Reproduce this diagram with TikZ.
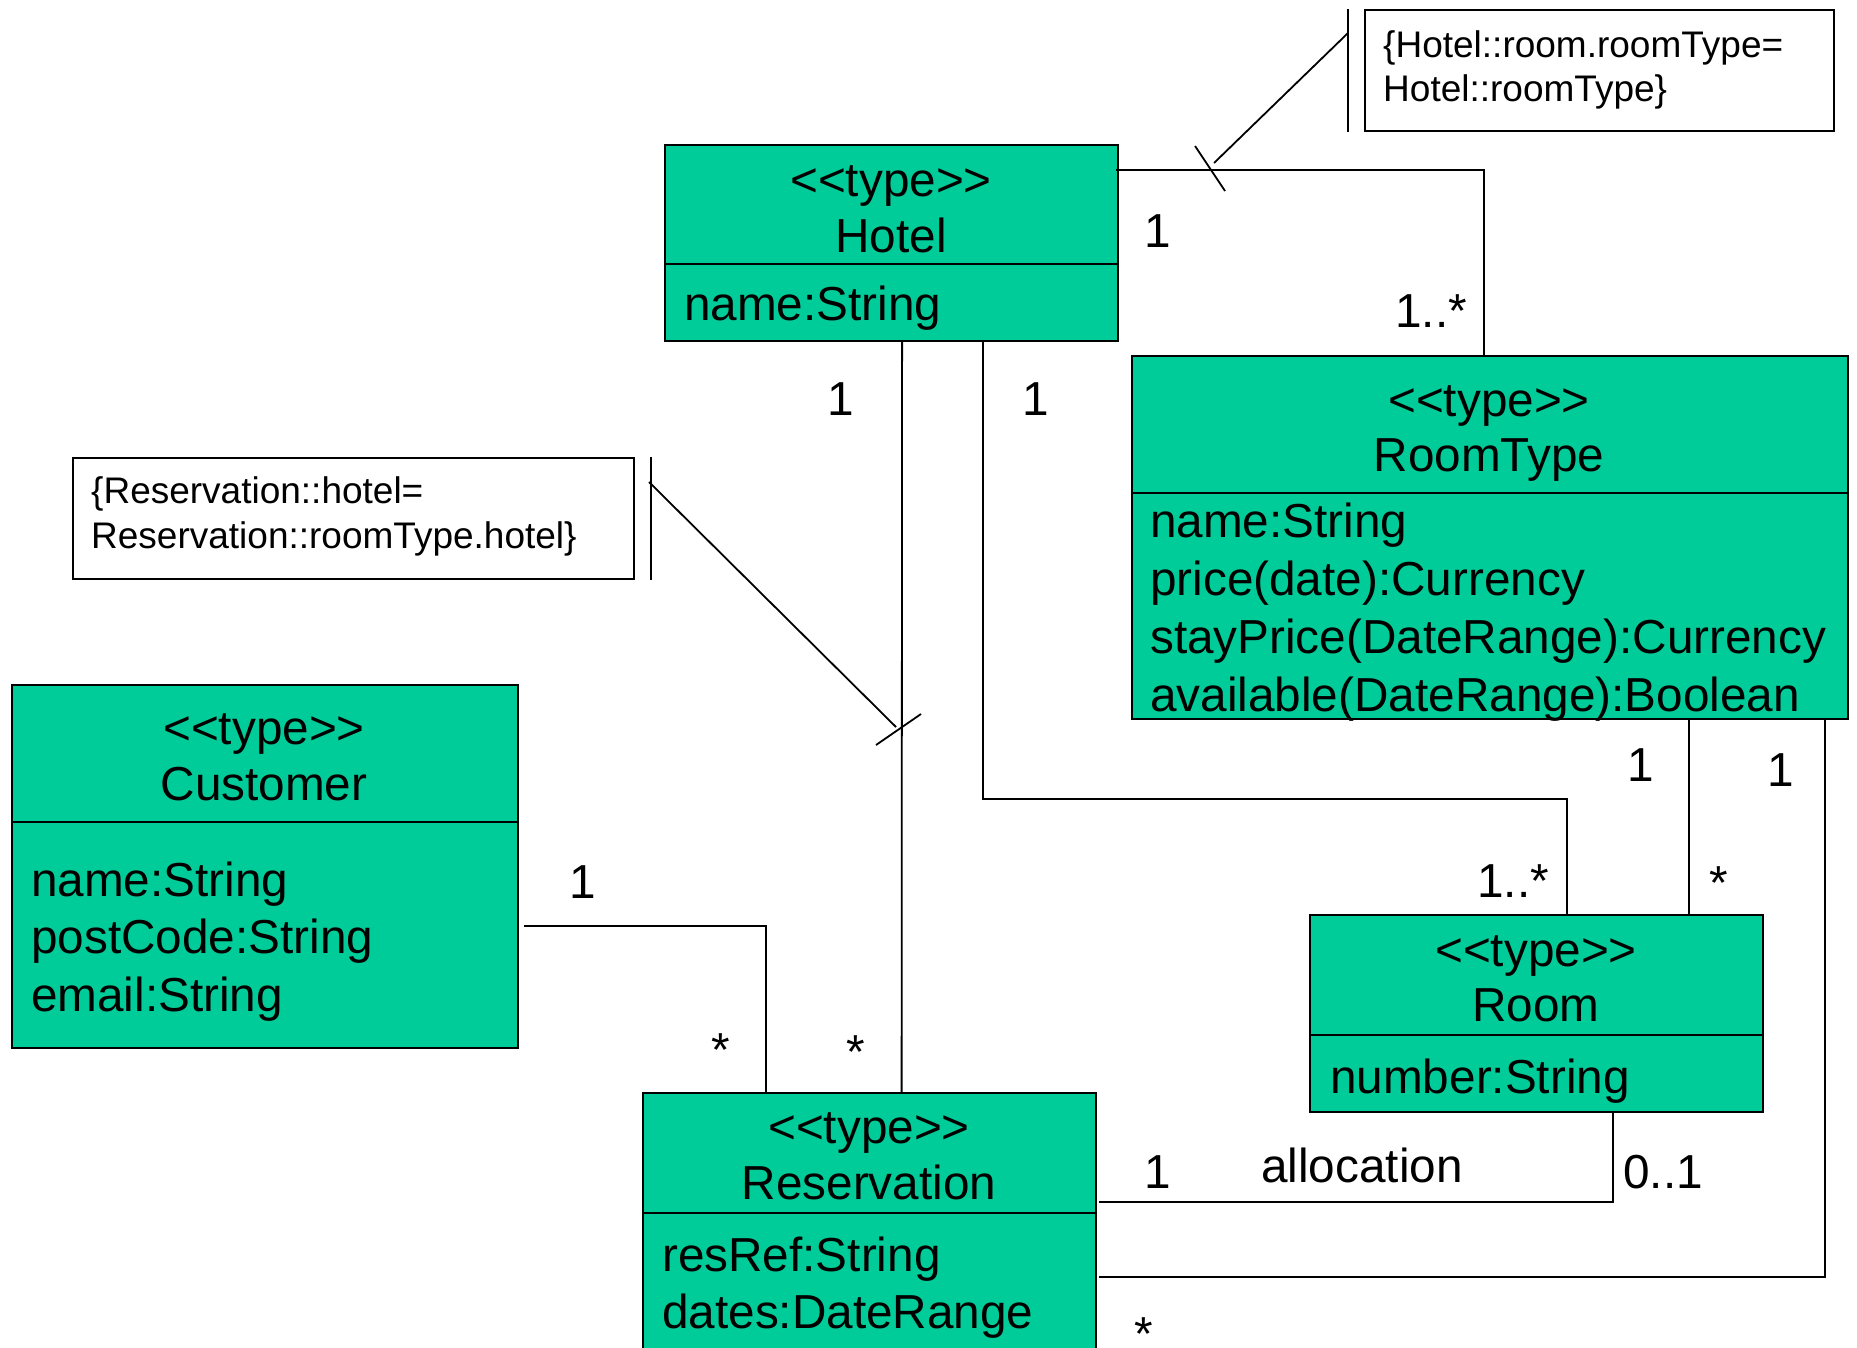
\documentclass[tikz,border=0pt]{standalone}
\usepackage{fontspec}
\setmainfont{Liberation Sans}
\definecolor{typegreen}{RGB}{0,204,153}
\newcommand{\stereo}[1]{<{}<#1>{}>}

\begin{document}
\begin{tikzpicture}[x=1pt,y=-1pt,
  classbox/.style={draw=black, fill=typegreen, line width=2.2pt, inner sep=0pt, anchor=north west},
  big/.style={font=\fontsize{47.7pt}{56pt}\selectfont, inner sep=0pt, text height=0.75em, text depth=0.21em, yshift=-14pt},
  title/.style={big, anchor=center},
  attr/.style={big, anchor=west},
  mult/.style={big, anchor=center},
  notebox/.style={draw=black, line width=1.8pt, fill=white, anchor=north west, inner sep=0pt},
  notetext/.style={font=\fontsize{37pt}{44pt}\selectfont, inner sep=0pt, anchor=west, text height=0.75em, text depth=0.21em, yshift=-11pt},
  link/.style={line width=1.8pt},
  divider/.style={line width=2.2pt},
]
\clip (0,0) rectangle (1857,1347);

% ---- class boxes ----
\node[classbox, minimum width=453pt, minimum height=196pt] (hotel) at (664,144) {};
\node[classbox, minimum width=716pt, minimum height=363pt] (roomtype) at (1131,355) {};
\node[classbox, minimum width=506pt, minimum height=363pt] (customer) at (11,684) {};
\node[classbox, minimum width=453pt, minimum height=197pt] (room) at (1309,914) {};
\node[classbox, minimum width=453pt, minimum height=280pt] (reservation) at (642,1092) {};

% compartment dividers
\draw[divider] ([yshift=-120pt]hotel.north west) -- ([yshift=-120pt]hotel.north east);
\draw[divider] ([yshift=-138pt]roomtype.north west) -- ([yshift=-138pt]roomtype.north east);
\draw[divider] ([yshift=-138pt]customer.north west) -- ([yshift=-138pt]customer.north east);
\draw[divider] ([yshift=-121pt]room.north west) -- ([yshift=-121pt]room.north east);
\draw[divider] ([yshift=-121pt]reservation.north west) -- ([yshift=-121pt]reservation.north east);

% ---- class texts ----
\node[title] (hotelst) at (891,180) {\stereo{type}};
\node[title] (hotelnm) at (891,236) {Hotel};
\node[attr] (hotela1) at (684,304) {name:String};

\node[title] (rtst) at (1489,400) {\stereo{type}};
\node[title] (rtnm) at (1489,455) {RoomType};
\node[attr] (rta1) at (1150,521) {name:String};
\node[attr] (rta2) at (1150,579) {price(date):Currency};
\node[attr] (rta3) at (1150,637) {stayPrice(DateRange):Currency};
\node[attr] (rta4) at (1150,695) {available(DateRange):Boolean};

\node[title] (custst) at (264,728) {\stereo{type}};
\node[title] (custnm) at (264,784) {Customer};
\node[attr] (custa1) at (31,880) {name:String};
\node[attr] (custa2) at (31,937) {postCode:String};
\node[attr] (custa3) at (31,995) {email:String};

\node[title] (roomst) at (1536,950) {\stereo{type}};
\node[title] (roomnm) at (1536,1005) {Room};
\node[attr] (rooma1) at (1330,1077) {number:String};

\node[title] (resst) at (869,1127) {\stereo{type}};
\node[title] (resnm) at (869,1183) {Reservation};
\node[attr] (resa1) at (662,1255) {resRef:String};
\node[attr] (resa2) at (662,1312) {dates:DateRange};

% ---- constraint notes ----
\node[notebox, minimum width=469pt, minimum height=121pt] (note1) at (1364,9) {};
\node[notetext] (note1a) at (1383,44) {\{Hotel::room.roomType=};
\node[notetext] (note1b) at (1383,88) {Hotel::roomType\}};
\draw[link] ([xshift=-16pt]note1.north west) -- ([xshift=-16pt]note1.south west);

\node[notebox, minimum width=561pt, minimum height=121pt] (note2) at (72,457) {};
\node[notetext] (note2a) at (91,490) {\{Reservation::hotel=};
\node[notetext] (note2b) at (91,535) {Reservation::roomType.hotel\}};
\draw[link] ([xshift=16pt]note2.north east) -- ([xshift=16pt]note2.south east);

% ---- associations ----
\draw[link] ([xshift=-3pt,yshift=-26pt]hotel.north east) -| ([xshift=-6.5pt]roomtype.north);
\draw[link] ([xshift=10.5pt]hotel.south) -- ([xshift=32pt]reservation.north);
\draw[link] ([xshift=91.5pt]hotel.south) |- ([xshift=30pt,yshift=115pt]room.north) -- ([xshift=30pt]room.north);
\draw[link] ([xshift=198.5pt]roomtype.south) -- ([xshift=152pt]room.north);
\draw[link] ([xshift=334.5pt]roomtype.south) |- ([xshift=2pt,yshift=-185pt]reservation.north east);
\draw[link] ([xshift=76pt]room.south) |- ([xshift=2pt,yshift=-110pt]reservation.north east);
\draw[link] ([xshift=5pt,yshift=-242pt]customer.north east) -| ([xshift=-104pt]reservation.north);

% constraint anchors: ticks on the constrained associations
\coordinate (n1from) at (1348,33);
\coordinate (n1to) at (1214,163);
\coordinate (t1a) at (1195,146);
\coordinate (t1b) at (1225,191);
\draw[link] (n1from) -- (n1to);
\draw[link] (t1a) -- (t1b);

\coordinate (n2from) at (649,482);
\coordinate (n2to) at (896,727);
\coordinate (t2a) at (876,745);
\coordinate (t2b) at (921,714);
\draw[link] (n2from) -- (n2to);
\draw[link] (t2a) -- (t2b);

% ---- multiplicities and role names ----
\node[mult] (m1) at (1158,231) {1};
\node[mult] (m2) at (1431,311) {1..*};
\node[mult] (m3) at (841,399) {1};
\node[mult] (m4) at (1036,399) {1};
\node[mult] (m5) at (583,882) {1};
\node[mult] (m6) at (721,1050) {*};
\node[mult] (m7) at (856,1052) {*};
\node[mult] (m8) at (1641,765) {1};
\node[mult] (m9) at (1781,770) {1};
\node[mult] (m10) at (1513,881) {1..*};
\node[mult] (m11) at (1719,883) {*};
\node[mult] (m12) at (1158,1172) {1};
\node[mult] (alloc) at (1362,1166) {allocation};
\node[mult] (m13) at (1663,1172) {0..1};
\node[mult] (m14) at (1144,1334) {*};
\end{tikzpicture}
\end{document}
